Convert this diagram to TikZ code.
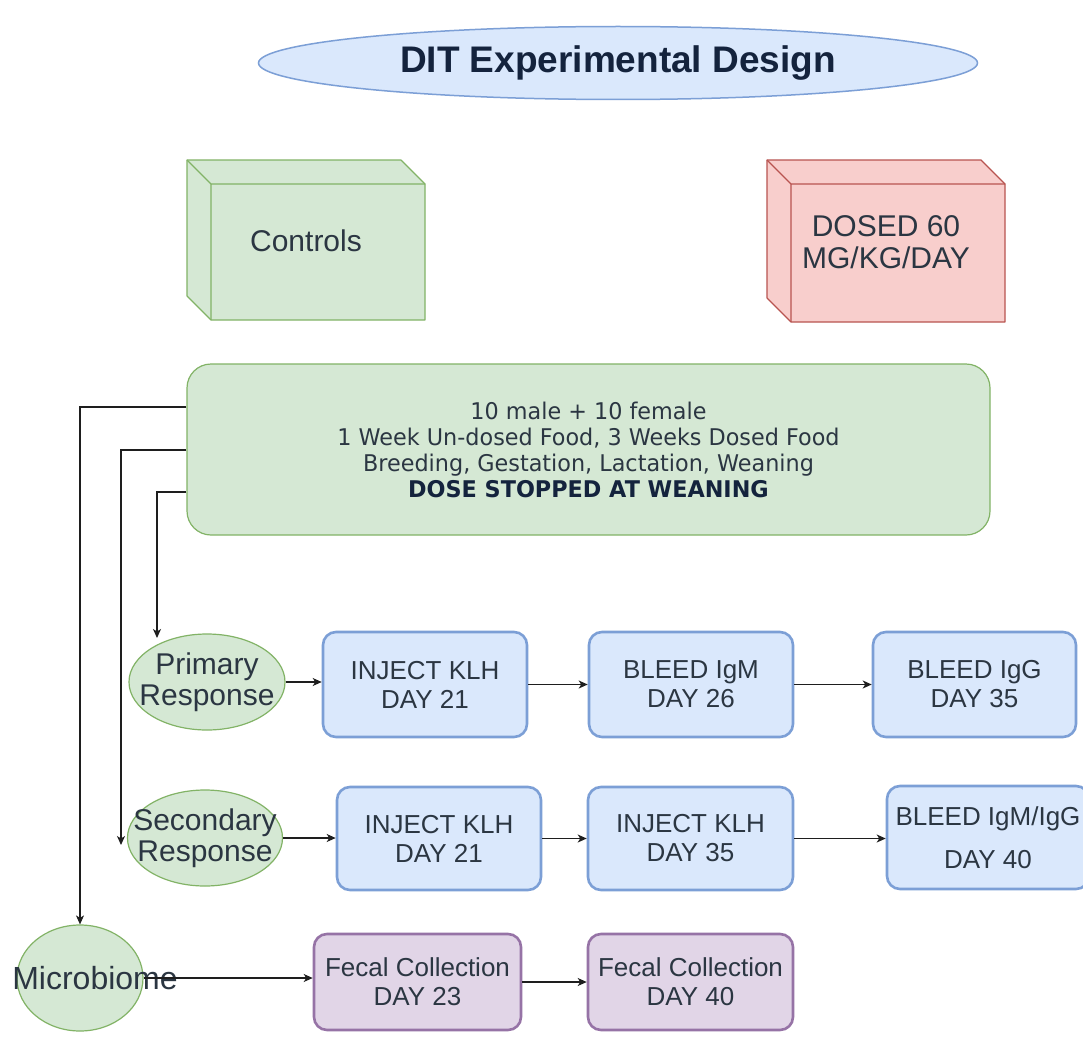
\documentclass[tikz,border=0pt]{standalone}
\usepackage{fontspec}
\setmainfont{Liberation Sans}
\newfontfamily\condfont[FakeStretch=0.97]{DejaVu Sans}
\usetikzlibrary{shapes.geometric,arrows.meta}
\definecolor{gfill}{HTML}{D5E8D4}
\definecolor{gstroke}{HTML}{82B366}
\definecolor{rfill}{HTML}{F8CECC}
\definecolor{rstroke}{HTML}{B85450}
\definecolor{bfill}{HTML}{DAE8FC}
\definecolor{bstroke}{HTML}{7C9FD6}
\definecolor{pfill}{HTML}{E1D5E7}
\definecolor{pstroke}{HTML}{9673A6}
\definecolor{txt}{HTML}{2B3642}
\definecolor{navy}{HTML}{14233D}
\definecolor{linec}{HTML}{1E1E1E}
\begin{document}
\begin{tikzpicture}[x=1pt,y=-1pt,
  every node/.style={text=txt},
  arr/.style={draw=linec, line width=1.2pt, -{Stealth[length=9pt,width=8pt,inset=2.5pt]}},
  gell/.style={ellipse, draw=gstroke, fill=gfill, line width=1.2pt, inner sep=0pt},
  elltxt/.style={align=center, inner sep=0pt, font=\fontsize{30}{31}\selectfont},
  bbox/.style={rectangle, rounded corners=13pt, draw=bstroke, fill=bfill, line width=2.6pt,
    inner sep=0pt, align=center, font=\fontsize{26}{29}\selectfont},
  pbox/.style={rectangle, rounded corners=13pt, draw=pstroke, fill=pfill, line width=2.6pt,
    inner sep=0pt, align=center, font=\fontsize{26}{29}\selectfont},
  cubetxt/.style={align=center, font=\fontsize{30}{32}\selectfont}
]
\fill[white] (0,0) rectangle (1083,1038);
\useasboundingbox (0,0) rectangle (1083,1038);

% title
\node[ellipse, draw=bstroke, fill=bfill, line width=1.5pt, minimum width=719pt, minimum height=73pt,
  inner sep=0pt, font=\fontsize{37}{39}\selectfont\bfseries, text=navy] (title) at (618,63) {DIT Experimental Design};

% controls cube
\filldraw[fill=gfill, draw=gstroke, line width=1.2pt, line join=round]
  (187,160) -- (401,160) -- (425,184) -- (425,320) -- (211,320) -- (187,296) -- cycle;
\draw[gstroke, line width=1.2pt, line join=round] (187,160) -- (211,184) -- (425,184) (211,184) -- (211,320);
\node[cubetxt] (controls) at (306,241) {Controls};

% dosed cube
\filldraw[fill=rfill, draw=rstroke, line width=1.2pt, line join=round]
  (767,160) -- (981,160) -- (1005,184) -- (1005,322) -- (791,322) -- (767,298) -- cycle;
\draw[rstroke, line width=1.2pt, line join=round] (767,160) -- (791,184) -- (1005,184) (791,184) -- (791,322);
\node[cubetxt] (dosed) at (886,242) {DOSED 60\\MG/KG/DAY};

% big box
\node[rectangle, rounded corners=24pt, draw=gstroke, fill=gfill, line width=1.2pt,
  minimum width=803pt, minimum height=171pt, inner sep=0pt, align=center,
  font=\condfont\fontsize{23}{26}\selectfont] (big) at (588.5,449.5)
  {10 male + 10 female\\1 Week Un-dosed Food, 3 Weeks Dosed Food\\Breeding, Gestation, Lactation, Weaning\\
   \textcolor{navy}{\bfseries DOSE STOPPED AT WEANING}};

% ellipses
\node[gell, minimum width=156pt, minimum height=96pt] (prim) at (207,682) {};
\node[elltxt] (primtxt) at (prim.center) {Primary\\Response};
\node[gell, minimum width=155pt, minimum height=96pt] (sec) at (205,838) {};
\node[elltxt] (sectxt) at (sec.center) {Secondary\\Response};
\node[gell, minimum width=126pt, minimum height=106pt] (micro) at (80,978) {};
\node[font=\fontsize{32}{34}\selectfont, inner sep=0pt] (microtxt) at (95,978) {Microbiome};

% primary row
\node[bbox, minimum width=204pt, minimum height=105pt] (p1) at (425,684.5) {INJECT KLH\\DAY 21};
\node[bbox, minimum width=204pt, minimum height=105pt] (p2) at (691,684.5) {BLEED IgM\\DAY 26};
\node[bbox, minimum width=203pt, minimum height=105pt] (p3) at (974.5,684.5) {BLEED IgG\\DAY 35};

% secondary row
\node[bbox, minimum width=204pt, minimum height=103pt] (s1) at (439,838.5) {INJECT KLH\\DAY 21};
\node[bbox, minimum width=205pt, minimum height=103pt] (s2) at (690.5,838.5) {INJECT KLH\\DAY 35};
\node[bbox, minimum width=202pt, minimum height=103pt] (s3) at (988,837.5) {BLEED IgM/IgG\\[14pt]DAY 40};

% microbiome row
\node[pbox, minimum width=207pt, minimum height=96pt] (f1) at (417.5,982) {Fecal Collection\\DAY 23};
\node[pbox, minimum width=205pt, minimum height=96pt] (f2) at (690.5,982) {Fecal Collection\\DAY 40};

% connectors from big box
\coordinate (primin) at (157,638);
\coordinate (secin) at (121,845);
\draw[arr] (big.west |- 0,407) -| (micro.north);
\draw[arr] (big.west |- 0,450) -| (secin);
\draw[arr] (big.west |- 0,492) -| (primin);

% row arrows
\draw[arr] (prim.east) -- (p1.west |- prim.east);
\draw[arr] (p1.east) -- (p2.west);
\draw[arr] (p2.east) -- (p3.west);
\draw[arr] (sec.east) -- (s1.west |- sec.east);
\draw[arr] (s1.east) -- (s2.west);
\draw[arr] (s2.east) -- (s3.west |- s2.east);
\draw[arr] (micro.east) -- (f1.west |- micro.east);
\draw[arr] (f1.east) -- (f2.west);
\end{tikzpicture}
\end{document}
